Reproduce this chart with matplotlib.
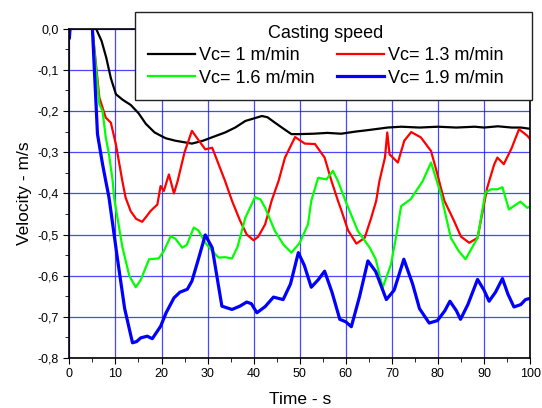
import matplotlib
matplotlib.use('Agg')
import matplotlib.pyplot as plt
from matplotlib.patches import Rectangle
from matplotlib.ticker import MultipleLocator, FuncFormatter

plt.rcParams['font.family'] = ['Liberation Sans', 'DejaVu Sans']

# data
t_1 = [5.8, 7, 8, 9, 10.1, 11.5, 13.3, 15, 16.6, 18.5, 20.9, 23, 26.6, 29, 30.9, 33.8,
       36, 38.2, 40, 41.8, 43, 44.6, 46.5, 48.2, 49.7, 53, 56, 59, 62, 65, 69.1, 72, 76,
       80, 84, 88, 90, 93, 96, 98, 100]
v_1 = [0, -0.03, -0.07, -0.12, -0.159, -0.172, -0.185, -0.205, -0.231, -0.252, -0.266,
       -0.272, -0.279, -0.272, -0.264, -0.252, -0.24, -0.224, -0.218, -0.212, -0.215, -0.228,
       -0.243, -0.256, -0.256, -0.255, -0.253, -0.255, -0.25, -0.246, -0.24, -0.238, -0.24,
       -0.238, -0.24, -0.238, -0.24, -0.237, -0.24, -0.24, -0.243]

t_13 = [5, 6.5, 7.9, 9.0, 10.1, 11.5, 12.2, 13.3, 14.5, 15.8, 16.8, 17.6, 19.1, 19.8, 20.5,
        21.6, 22.7, 23.5, 25, 26.6, 28, 29.5, 31, 33.8, 35.3, 37, 38.5, 40, 41, 42.5, 43.9,
        45.4, 46.8, 49, 51.1, 53.3, 55.4, 56.9, 58.3, 59, 60.5, 62.3, 64.1, 65.5, 66.6, 67.3,
        68.5, 69, 69.5, 71.3, 72.7, 74.2, 76.3, 78.5, 79.9, 80.6, 81.4, 83.5, 85, 86.8,
        88.6, 90.7, 92.2, 92.9, 94.3, 96, 97.6, 99.4, 100]
v_13 = [0, -0.167, -0.216, -0.228, -0.281, -0.37, -0.41, -0.443, -0.462, -0.469, -0.455,
        -0.443, -0.427, -0.382, -0.394, -0.354, -0.40, -0.37, -0.30, -0.248, -0.27, -0.293,
        -0.289, -0.37, -0.418, -0.465, -0.50, -0.514, -0.505, -0.475, -0.418, -0.37, -0.313,
        -0.263, -0.279, -0.28, -0.313, -0.37, -0.418, -0.44, -0.49, -0.522, -0.508, -0.46,
        -0.418, -0.37, -0.313, -0.252, -0.305, -0.325, -0.272, -0.251, -0.264, -0.297,
        -0.354, -0.385, -0.418, -0.467, -0.505, -0.52, -0.508, -0.386, -0.33, -0.313,
        -0.329, -0.29, -0.244, -0.26, -0.268]

t_16 = [5, 6.5, 7.2, 7.9, 8.6, 9.4, 9.7, 11.5, 13, 14.4, 15.5, 17.3, 19.4, 20.5, 22, 23,
        24.5, 25.5, 27, 28, 29.5, 31, 32.4, 33.8, 35.3, 36.5, 38.2, 40.3, 41.5, 42.5, 44.6,
        46.5, 48.2, 50, 51.8, 52.5, 54, 55.8, 57.2, 58.3, 60, 62.6, 65.2, 66.5, 68, 69.8,
        71, 72, 74.1, 76.7, 78.5, 80.6, 82.8, 84.5, 86, 88.6, 90.3, 91.5, 92.9, 94, 95.4,
        97.9, 99.4, 100]
v_16 = [0, -0.183, -0.2, -0.264, -0.305, -0.37, -0.41, -0.53, -0.6, -0.628, -0.61, -0.56,
        -0.558, -0.54, -0.504, -0.51, -0.532, -0.525, -0.483, -0.49, -0.52, -0.54, -0.556,
        -0.555, -0.558, -0.53, -0.459, -0.409, -0.415, -0.435, -0.491, -0.525, -0.544,
        -0.52, -0.475, -0.418, -0.362, -0.366, -0.345, -0.37, -0.42, -0.491, -0.532, -0.56,
        -0.629, -0.573, -0.5, -0.431, -0.414, -0.37, -0.325, -0.40, -0.508, -0.54, -0.56,
        -0.508, -0.398, -0.39, -0.39, -0.385, -0.439, -0.42, -0.435, -0.432]

# the 1.9 series has a short stub at t=0 before the main trace
t_19 = [0, 0.15, float('nan'), 5, 6.1, 7.2, 7.9, 8.6, 10.4, 12, 13.7, 14.6, 15.5, 16.9, 18,
        19.8, 21, 22.7, 24, 25.6, 26.6, 28, 29.5, 31, 32, 33.1, 35.3, 37, 38.5, 39.5, 40.7,
        42.5, 44.3, 46.4, 48, 49.7, 51, 52.5, 54, 55.4, 57, 58.7, 60, 61.2, 63, 64.8, 66.5,
        68.8, 70.5, 72.6, 74.5, 76, 78.1, 79.9, 81.5, 82.6, 84, 84.9, 86.5, 88.6, 90, 91.1,
        92.5, 94, 95.2, 96.5, 98, 99, 100]
v_19 = [-0.022, 0, float('nan'), 0, -0.256, -0.329, -0.37, -0.41, -0.556, -0.68, -0.763,
        -0.76, -0.751, -0.747, -0.753, -0.723, -0.69, -0.654, -0.64, -0.633, -0.613, -0.56,
        -0.501, -0.532, -0.6, -0.674, -0.682, -0.674, -0.664, -0.668, -0.69, -0.675, -0.652,
        -0.658, -0.62, -0.544, -0.575, -0.628, -0.61, -0.589, -0.64, -0.706, -0.712, -0.724,
        -0.65, -0.564, -0.59, -0.658, -0.635, -0.56, -0.62, -0.68, -0.715, -0.709, -0.685,
        -0.662, -0.685, -0.706, -0.67, -0.609, -0.635, -0.662, -0.64, -0.607, -0.645, -0.676,
        -0.67, -0.658, -0.655]

fig = plt.figure(figsize=(5.42, 4.08), dpi=100)
ax = fig.add_axes([0.128, 0.1225, 0.850, 0.807])

l1, = ax.plot(t_1, v_1, color='black', lw=1.6, label='Vc= 1 m/min')
l13, = ax.plot(t_13, v_13, color='#ff0000', lw=1.6, label='Vc= 1.3 m/min')
l16, = ax.plot(t_16, v_16, color='#00ff00', lw=1.6, label='Vc= 1.6 m/min')
l19, = ax.plot(t_19, v_19, color='#0000ff', lw=2.3, label='Vc= 1.9 m/min')

ax.set_xlim(0, 100)
ax.set_ylim(-0.8, 0)
ax.xaxis.set_major_locator(MultipleLocator(10))
ax.xaxis.set_minor_locator(MultipleLocator(5))
ax.yaxis.set_major_locator(MultipleLocator(0.1))
ax.yaxis.set_minor_locator(MultipleLocator(0.05))
ax.yaxis.set_major_formatter(FuncFormatter(lambda v, p: ('%.1f' % v).replace('.', ',').replace('-0,0', '0,0')))
ax.tick_params(which='both', direction='out', labelsize=9)
ax.tick_params(which='major', length=4)
ax.tick_params(which='minor', length=3)
ax.grid(True, which='major', color='#1a1aff', lw=0.9, alpha=0.8)
ax.set_axisbelow(True)
for s in ax.spines.values():
    s.set_linewidth(1.2)

ax.set_xlabel('Time - s', fontsize=12.5, labelpad=8)
ax.set_ylabel('Velocity - m/s', fontsize=12.5)

# legend box sits over the top of the axes and is wider than its contents
box = Rectangle((135 / 542, 1 - 100 / 408), 397 / 542, 88.3 / 408, transform=fig.transFigure,
                facecolor='white', edgecolor='#222222', lw=1.0, zorder=4)
fig.add_artist(box)

handles = [l1, l16, l13, l19]
leg = fig.legend(handles, [h.get_label() for h in handles], title='Casting speed', ncol=2,
                 loc='upper left', bbox_to_anchor=(135 / 542, 1 - 11.7 / 408),
                 fontsize=13, title_fontsize=13, handlelength=2.6, columnspacing=1.2,
                 labelspacing=0.3, handletextpad=0.25, borderpad=0.72, borderaxespad=0,
                 frameon=False)
leg.set_zorder(6)

fig.savefig('out.png', dpi=100)
